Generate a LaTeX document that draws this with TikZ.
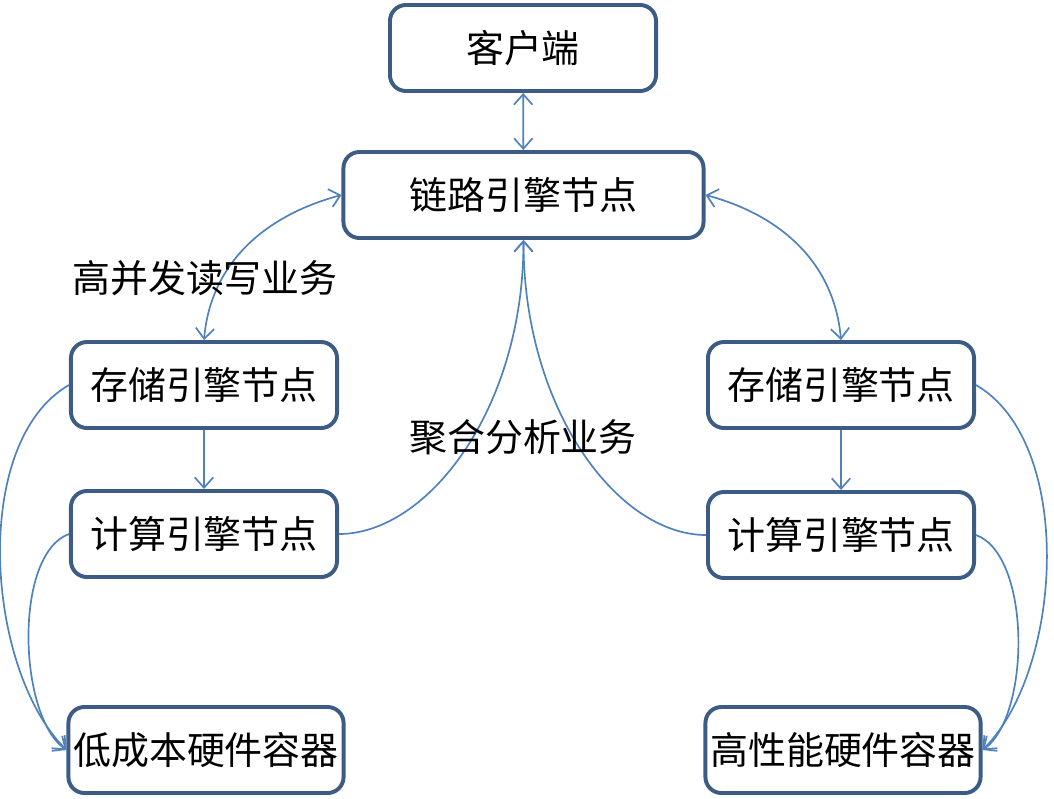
\documentclass[tikz,border=0pt]{standalone}
\usepackage{fontspec}
\newfontfamily\cjk{Noto Sans CJK SC}
\usepackage{tikz}
\usetikzlibrary{arrows.meta,positioning}
\definecolor{boxblue}{RGB}{60,92,134}
\definecolor{linkblue}{RGB}{79,129,189}

\begin{document}
\begin{tikzpicture}[x=0.025cm, y=-0.025cm,
  box/.style={rectangle, rounded corners=0.4cm, draw=boxblue, line width=2.8pt, minimum width=6.65cm, minimum height=2.15cm, font=\cjk\fontsize{27}{32}\selectfont},
  flow/.style={draw=linkblue, line width=1.2pt},
  tag/.style={font=\cjk\fontsize{27}{32}\selectfont},
  >={Straight Barb[length=2.6mm, width=4.6mm, line width=1.2pt]}
]
  \useasboundingbox (0,0) rectangle (1054,798);

  \node[box] (client) at (523, 48) {客户端};
  \node[box, minimum width=9.0cm] (link) at (523.5, 195) {链路引擎节点};

  \node[box] (storeL) at (204, 385) {存储引擎节点};
  \node[box] (compL) at (204, 534) {计算引擎节点};
  \node[box] (cheap) at (206, 750) {低成本硬件容器};

  \node[box] (storeR) at (841, 385) {存储引擎节点};
  \node[box] (compR) at (841, 535) {计算引擎节点};
  \node[box] (fast) at (843, 750) {高性能硬件容器};

  % Client and link engine
  \draw[flow, <->] (client) -- (link);
  \draw[flow, <->] (storeL.north) to[out=85, in=195] (link.west);
  \draw[flow, <->] (storeR.north) to[out=95, in=-15] (link.east);

  % Storage to compute
  \draw[flow, ->] (storeL) -- (compL);
  \draw[flow, ->] (storeR) -- (compR);

  % Analysis paths
  \draw[flow, ->] (compL.east) to[out=0, in=-90, out looseness=0.65, in looseness=1.25] (link.south);
  \draw[flow, ->] (compR.west) to[out=180, in=-90, out looseness=0.65, in looseness=1.25] (link.south);

  % Hardware containers
  \draw[flow, ->] (storeL.west) to[out=210, in=135, looseness=0.8] (cheap.west);
  \draw[flow, ->] (compL.west) to[out=200, in=145, looseness=0.7] (cheap.west);
  \draw[flow, ->] (storeR.east) to[out=-30, in=45, looseness=0.8] (fast.east);
  \draw[flow, ->] (compR.east) to[out=-20, in=35, looseness=0.7] (fast.east);

  % Labels
  \node[tag] (rw) at (205, 278) {高并发读写业务};
  \node[tag] (agg) at (523, 437) {聚合分析业务};
\end{tikzpicture}
\end{document}
